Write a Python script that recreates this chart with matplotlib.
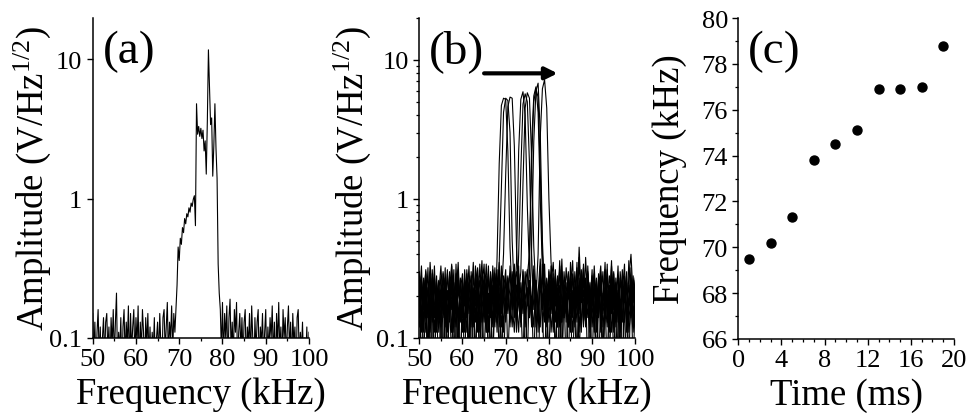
import numpy as np
import matplotlib
matplotlib.use("Agg")
import matplotlib.pyplot as plt
from matplotlib.ticker import MultipleLocator, NullLocator, FixedLocator, FixedFormatter

plt.rcParams['font.family'] = ['Liberation Serif', 'DejaVu Serif']
plt.rcParams['mathtext.fontset'] = 'custom'
plt.rcParams['mathtext.rm'] = 'Liberation Serif'
plt.rcParams['mathtext.it'] = 'Liberation Serif:italic'

# ---------------- Panel (a): single spectrum, 0.25 kHz grid from 50 to 100 kHz
freq_a = np.arange(201) * 0.25 + 50.0
amp_a = [
    # 50.00 - 54.75
    .15, .07, .13, .06, .11, .16, .07, .12, .05, .10, .14, .07, .13, .15, .08, .12, .06, .14, .09, .16,
    # 55.00 - 59.75
    .07, .13, .21, .06, .11, .08, .14, .05, .12, .16, .07, .13, .09, .17, .06, .15, .08, .12, .16, .07,
    # 60.00 - 64.75
    .14, .09, .17, .06, .13, .08, .16, .11, .05, .14, .09, .15, .07, .12, .06, .11, .08, .14, .05, .10,
    # 65.00 - 69.25
    .13, .07, .15, .09, .06, .14, .16, .08, .12, .18, .07, .13, .10, .17, .08, .15, .11, .16,
    # 69.50 - 79.25
    .24, .45, .36, .52, .47, .62, .57, .72, .66, .78, .74, .86, .80, .93, .88, .99, 1.05, .64,
    4.8, 2.9, 3.3, 2.8, 3.2, 2.7, 3.1, 2.2, 2.6, 1.5, 3.6, 11.7, 6.1, 3.4, 3.8, 1.45, 2.4, 4.8,
    2.3, 1.4, .34, .21,
    # 79.50 - 79.75
    .16, .08,
    # 80.00 - 84.75
    .18, .07, .15, .10, .17, .06, .14, .19, .08, .13, .07, .16, .11, .18, .06, .11, .15, .08, .14, .07,
    # 85.00 - 89.75
    .13, .16, .06, .12, .09, .15, .07, .17, .10, .05, .14, .08, .13, .16, .06, .12, .09, .15, .07, .11,
    # 90.00 - 94.75
    .16, .06, .12, .08, .14, .10, .17, .07, .13, .05, .15, .09, .18, .08, .12, .06, .16, .10, .14, .07,
    # 95.00 - 99.75
    .12, .17, .08, .13, .06, .15, .09, .12, .05, .14, .16, .07, .11, .08, .13, .06, .10, .07, .12, .05,
    # 100.00
    .11,
]

# ---------------- Panel (b): ten spectra, 0.5 kHz grid from 50 to 100 kHz
freq_b = np.arange(101) * 0.5 + 50.0
trace_1 = [.21,.06,.27,.14,.32,.11,.18,.05,.24,.15, .12,.29,.17,.05,.22,.34,.13,.19,.06,.26,
           .16,.11,.31,.18,.05,.23,.14,.28,.07,.20, .13,.25,.06,.30,.17,.12,.38,1.8,4.7,5.3,
           5.2,2.2,.45,.19,.27,.11,.22,.15,.30,.06, .18,.24,.12,.33,.16,.05,.21,.27,.13,.19,
           .07,.26,.15,.31,.12,.20,.05,.24,.17,.29, .11,.22,.14,.06,.27,.18,.32,.13,.21,.07,
           .25,.16,.05,.20,.28,.12,.18,.06,.23,.15, .30,.13,.19,.11,.26,.05,.17,.24,.14,.21, .12]
trace_2 = [.14,.26,.07,.19,.05,.28,.16,.33,.12,.22, .18,.06,.24,.14,.30,.11,.20,.27,.15,.05,
           .23,.17,.29,.07,.19,.35,.13,.21,.05,.26, .16,.11,.28,.19,.06,.24,.15,.35,1.2,4.2,
           5.3,5.1,3.0,.50,.21,.13,.29,.17,.07,.24, .31,.14,.20,.06,.26,.18,.12,.34,.15,.22,
           .28,.11,.19,.25,.06,.17,.30,.14,.21,.12, .35,.16,.23,.07,.18,.29,.12,.26,.05,.19,
           .14,.27,.11,.22,.16,.06,.31,.18,.12,.24, .07,.20,.28,.15,.06,.23,.13,.36,.17,.11, .19]
trace_3 = [.30,.12,.19,.25,.06,.16,.27,.11,.21,.14, .24,.05,.17,.31,.13,.26,.07,.20,.35,.15,
           .11,.22,.14,.27,.18,.06,.25,.32,.12,.19, .28,.15,.21,.07,.33,.17,.26,.12,.20,.40,
           1.5,4.6,5.4,5.3,2.4,.45,.22,.14,.31,.18, .07,.25,.16,.29,.12,.21,.37,.15,.06,.23,
           .17,.33,.12,.20,.27,.07,.16,.24,.13,.30, .19,.05,.26,.15,.38,.12,.22,.17,.29,.11,
           .20,.13,.25,.06,.18,.30,.14,.22,.11,.27, .16,.24,.07,.19,.13,.28,.21,.06,.25,.15, .22]
trace_4 = [.17,.28,.11,.23,.14,.35,.19,.06,.26,.13, .21,.15,.32,.07,.18,.24,.12,.29,.16,.05,
           .27,.13,.20,.06,.30,.16,.22,.11,.34,.18, .07,.23,.15,.27,.12,.19,.31,.14,.24,.06,
           .20,.28,.13,.22,.16,.35,2.2,5.2,5.9,4.0, .90,.30,.19,.12,.26,.15,.33,.11,.20,.24,
           .13,.18,.29,.07,.23,.16,.37,.14,.21,.06, .27,.15,.20,.32,.11,.25,.17,.13,.30,.19,
           .06,.24,.16,.29,.12,.21,.15,.34,.07,.18, .26,.12,.22,.17,.31,.14,.06,.20,.27,.13, .16]
trace_5 = [.25,.13,.20,.30,.07,.17,.23,.14,.28,.11, .19,.26,.06,.22,.15,.33,.18,.12,.25,.20,
           .14,.31,.17,.05,.24,.19,.27,.13,.21,.36, .15,.20,.11,.26,.18,.32,.13,.23,.07,.28,
           .17,.24,.12,.30,.19,.14,.40,1.6,4.8,5.7, 5.0,1.8,.40,.16,.24,.11,.29,.18,.34,.13,
           .22,.15,.27,.07,.19,.31,.14,.24,.17,.28, .12,.21,.16,.35,.07,.23,.19,.13,.26,.17,
           .31,.11,.20,.15,.27,.06,.23,.18,.13,.29, .19,.07,.25,.14,.21,.34,.12,.18,.24,.06, .20]
trace_6 = [.12,.22,.16,.29,.19,.05,.31,.15,.20,.26, .07,.17,.27,.13,.24,.19,.11,.34,.14,.22,
           .29,.12,.19,.25,.16,.21,.07,.28,.15,.23, .34,.13,.18,.22,.06,.27,.16,.31,.12,.20,
           .25,.15,.33,.18,.11,.24,.20,.30,1.3,4.5, 5.8,5.3,2.0,.45,.21,.13,.27,.16,.22,.07,
           .30,.19,.14,.25,.12,.33,.18,.21,.06,.26, .16,.29,.13,.20,.24,.11,.34,.17,.22,.14,
           .26,.18,.07,.23,.33,.15,.19,.12,.28,.21, .13,.27,.17,.06,.22,.18,.30,.11,.16,.25, .14]
trace_7 = [.19,.33,.13,.21,.07,.25,.15,.29,.12,.18, .28,.14,.20,.11,.26,.16,.31,.06,.23,.17,
           .12,.26,.18,.33,.14,.20,.06,.24,.17,.30, .21,.11,.29,.16,.24,.13,.19,.35,.15,.22,
           .31,.07,.19,.27,.14,.22,.33,.12,.21,.16, .28,.40,2.5,5.5,6.4,4.2,1.0,.30,.15,.23,
           .19,.27,.11,.22,.16,.36,.13,.20,.25,.12, .21,.14,.30,.17,.45,.19,.26,.12,.33,.16,
           .22,.29,.13,.18,.25,.07,.16,.31,.19,.11, .24,.17,.33,.13,.20,.26,.11,.19,.15,.28, .17]
trace_8 = [.27,.15,.22,.11,.18,.30,.13,.24,.16,.06, .15,.23,.12,.29,.18,.07,.25,.16,.31,.13,
           .20,.06,.27,.15,.22,.12,.33,.18,.11,.24, .17,.28,.12,.21,.31,.15,.24,.07,.26,.18,
           .13,.23,.29,.16,.34,.19,.11,.25,.15,.30, .17,.35,1.8,5.0,6.2,5.4,1.6,.40,.24,.12,
           .31,.16,.23,.13,.28,.19,.07,.26,.15,.21, .24,.36,.12,.27,.16,.21,.14,.38,.18,.25,
           .12,.20,.27,.14,.22,.17,.35,.13,.24,.16, .29,.15,.21,.07,.26,.13,.23,.17,.32,.12, .23]
trace_9 = [.06,.20,.26,.16,.23,.13,.29,.18,.11,.21, .33,.17,.26,.13,.20,.28,.15,.22,.07,.27,
           .18,.24,.11,.21,.28,.15,.19,.31,.14,.07, .26,.18,.33,.14,.20,.25,.11,.29,.17,.23,
           .15,.27,.20,.12,.25,.30,.17,.13,.28,.19, .23,.14,.45,2.6,6.0,6.8,3.0,.50,.20,.27,
           .14,.24,.35,.17,.20,.12,.29,.16,.32,.19, .28,.11,.19,.23,.15,.31,.20,.27,.14,.22,
           .17,.33,.15,.26,.11,.20,.28,.14,.18,.36, .11,.23,.16,.27,.14,.19,.25,.13,.21,.18, .27]
trace_10 = [.24,.11,.18,.31,.14,.20,.06,.27,.17,.23, .13,.30,.19,.16,.27,.11,.22,.18,.29,.15,
            .25,.18,.14,.22,.12,.29,.17,.20,.26,.13, .19,.34,.16,.23,.13,.29,.20,.15,.33,.11,
            .28,.18,.15,.24,.31,.13,.22,.17,.26,.12, .20,.26,.14,.31,.19,.40,2.8,6.2,7.2,4.5,
            1.0,.35,.21,.28,.16,.24,.13,.30,.18,.23, .15,.27,.20,.13,.25,.18,.32,.15,.26,.20,
            .28,.12,.24,.19,.30,.16,.21,.26,.14,.33, .18,.25,.13,.30,.19,.23,.16,.27,.40,.20, .26]
traces_b = [trace_1, trace_2, trace_3, trace_4, trace_5,
            trace_6, trace_7, trace_8, trace_9, trace_10]

# arrow in panel (b): start/end frequency and level
arrow_f0, arrow_f1, arrow_level = 65.0, 82.0, 8.0

# ---------------- Panel (c): peak frequency vs time
time_c = [1, 3, 5, 7, 9, 11, 13, 15, 17, 19]
peak_freq_c = [69.5, 70.2, 71.3, 73.8, 74.5, 75.1, 76.9, 76.9, 77.0, 78.8]

# ---------------- Figure
W, H = 970, 414
fig = plt.figure(figsize=(W / 100, H / 100), dpi=100)

LABEL_FS = 26.5
TICK_FS = 19
PANEL_FS = 34


def px_axes(left, right, top, bottom):
    return fig.add_axes([left / W, 1 - bottom / H, (right - left) / W, (bottom - top) / H])


ax_a = px_axes(92.7, 309.0, 19.0, 339.0)
ax_b = px_axes(419.3, 635.3, 19.0, 339.0)
ax_c = px_axes(738.3, 954.0, 19.0, 340.0)

for ax in (ax_a, ax_b, ax_c):
    for s in ('top', 'right'):
        ax.spines[s].set_visible(False)
    for s in ('left', 'bottom'):
        ax.spines[s].set_linewidth(1.1)
    ax.tick_params(which='major', direction='out', length=4, width=1.0,
                   labelsize=TICK_FS, pad=3.5)
    ax.tick_params(which='minor', direction='out', length=2.5, width=0.9)

# panel (a)
ax_a.plot(freq_a, amp_a, color='black', lw=0.8)
ax_a.set_yscale('log')
ax_a.set_xlim(50, 100)
ax_a.set_ylim(0.1, 19.8)
ax_a.yaxis.set_major_locator(FixedLocator([0.1, 1, 10]))
ax_a.yaxis.set_major_formatter(FixedFormatter(['0.1', '1', '10']))
ax_a.yaxis.set_minor_locator(NullLocator())

# panel (b)
for tr in traces_b:
    ax_b.plot(freq_b, tr, color='black', lw=0.8)
ax_b.set_yscale('log')
ax_b.set_xlim(50, 100)
ax_b.set_ylim(0.1, 20.0)
ax_b.yaxis.set_major_locator(FixedLocator([0.1, 1, 10]))
ax_b.yaxis.set_major_formatter(FixedFormatter(['0.1', '1', '10']))
ax_b.annotate('', xy=(arrow_f1, arrow_level), xytext=(arrow_f0, arrow_level),
              arrowprops=dict(arrowstyle='-|>', lw=3, color='black',
                              mutation_scale=18, shrinkA=0, shrinkB=0))

for ax in (ax_a, ax_b):
    ax.xaxis.set_major_locator(MultipleLocator(10))
    ax.xaxis.set_minor_locator(MultipleLocator(5))
    ax.set_xlabel('Frequency (kHz)', fontsize=LABEL_FS)
    ax.set_ylabel(r'Amplitude (V/Hz$^{\mathrm{1/2}}$)', fontsize=LABEL_FS)
    ax.xaxis.set_label_coords(0.5, -0.12)

ax_a.yaxis.set_label_coords(-0.185, 0.5)
ax_b.yaxis.set_label_coords(-0.215, 0.5)

# panel (c)
ax_c.scatter(time_c, peak_freq_c, s=42, color='black', zorder=3, clip_on=False)
ax_c.set_xlim(0, 20)
ax_c.set_ylim(66, 80)
ax_c.xaxis.set_major_locator(MultipleLocator(4))
ax_c.xaxis.set_minor_locator(MultipleLocator(1))
ax_c.yaxis.set_major_locator(MultipleLocator(2))
ax_c.yaxis.set_minor_locator(MultipleLocator(1))
ax_c.set_xlabel('Time (ms)', fontsize=LABEL_FS)
ax_c.set_ylabel('Frequency (kHz)', fontsize=LABEL_FS)
ax_c.xaxis.set_label_coords(0.5, -0.12)
ax_c.yaxis.set_label_coords(-0.24, 0.5)

# panel letters
for ax, lab in ((ax_a, '(a)'), (ax_b, '(b)'), (ax_c, '(c)')):
    ax.text(0.045, 0.965, lab, transform=ax.transAxes, fontsize=PANEL_FS,
            ha='left', va='top')

fig.savefig('out.png', dpi=100)
